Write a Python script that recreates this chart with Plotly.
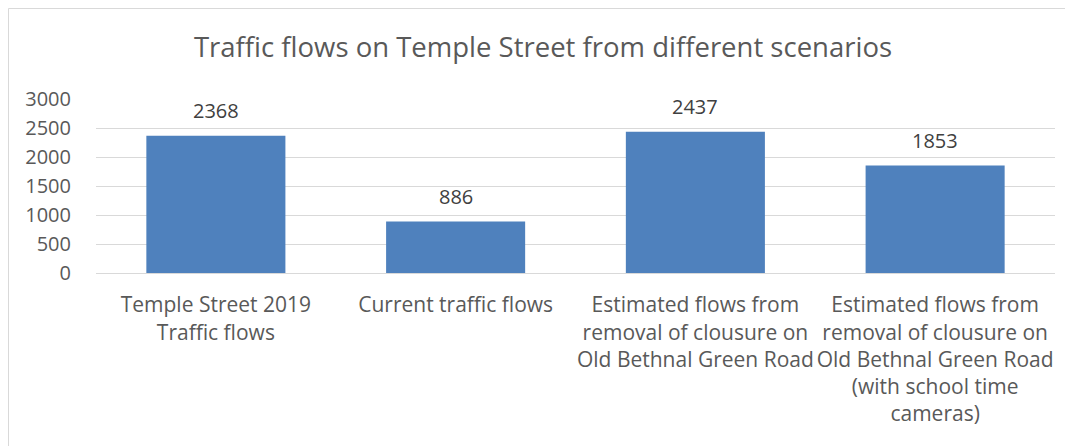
import plotly.graph_objects as go

categories = [
    "Temple Street 2019<br>Traffic flows",
    "Current traffic flows",
    "Estimated flows from<br>removal of clousure on<br>Old Bethnal Green Road",
    "Estimated flows from<br>removal of clousure on<br>Old Bethnal Green Road<br>(with school time<br>cameras)",
]
values = [2368, 886, 2437, 1853]
tick_vals = [0, 500, 1000, 1500, 2000, 2500, 3000]

FONT = "Open Sans"
GREY = "#595959"

# page body has an 8px margin, so the figure is laid out in page coords minus 8
OFF = 8
W, H = 1073 - OFF, 446 - OFF
l, t = 96 - OFF, 99 - OFF
r = W - (1055 - OFF)
b = H - (273 - OFF)
pw, ph = W - l - r, H - t - b

fig = go.Figure(go.Bar(
    x=categories, y=values,
    marker=dict(color="#4F81BD", line=dict(width=0)),
    width=0.58,
    hoverinfo="x+y",
))

for c, v in zip(categories, values):
    fig.add_annotation(x=c, y=v, text=str(v), showarrow=False,
                       yanchor="bottom", yshift=10,
                       font=dict(family=FONT, size=20, color="#404040"))

fig.update_layout(
    width=W, height=H,
    margin=dict(l=l, r=r, t=t, b=b, autoexpand=False),
    paper_bgcolor="white", plot_bgcolor="white",
    title=dict(text="Traffic flows on Temple Street from different scenarios",
               xref="container", x=(543 - OFF) / W, xanchor="center",
               yref="container", y=1 - (47 - OFF) / H, yanchor="middle",
               font=dict(family=FONT, size=27.5, color=GREY)),
    font=dict(family=FONT, size=20, color=GREY),
    showlegend=False,
    xaxis=dict(showgrid=False, showline=True, linecolor="#D9D9D9", linewidth=1,
               ticks="", automargin=False,
               tickfont=dict(family=FONT, size=21, color=GREY),
               ticklabelstandoff=13),
    yaxis=dict(range=[0, 3000], tickvals=tick_vals, showgrid=True,
               gridcolor="#D9D9D9", gridwidth=1, zeroline=False,
               showline=False, ticks="", automargin=False, ticklabelstandoff=24,
               tickfont=dict(family=FONT, size=20, color=GREY)),
    shapes=[dict(type="rect", xref="paper", yref="paper",
                 x0=(0.5 - l) / pw, x1=(W + 10 - l) / pw,
                 y0=-(b + 10) / ph, y1=(t - 0.5) / ph + 1,
                 line=dict(color="#D9D9D9", width=1), fillcolor="rgba(0,0,0,0)",
                 layer="below")],
)

fig.write_html("out.html")
